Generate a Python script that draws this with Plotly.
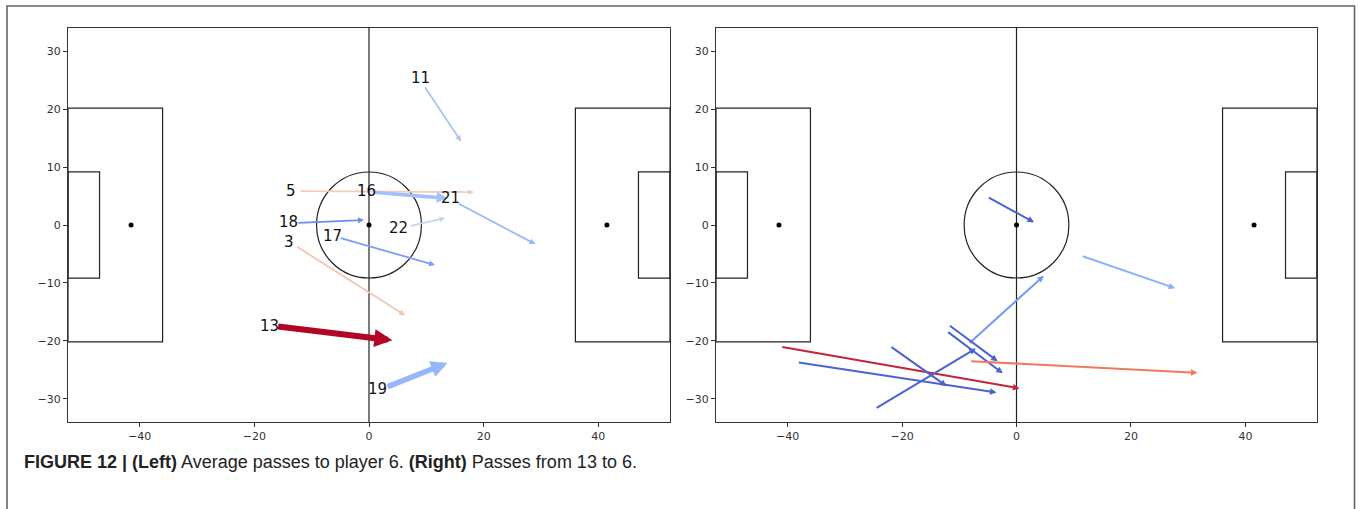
import plotly.graph_objects as go

# ---------------- data ----------------
left_labels = ['11', '5', '16', '21', '18', '22', '17', '3', '13', '19']
label_x = [8.9, -13.6, -0.5, 14.3, -14.0, 5.2, -6.4, -14.0, -17.3, 1.4]
label_y = [25.4, 5.8, 5.8, 4.7, 0.5, -0.5, -1.9, -2.9, -17.4, -28.3]
left_x0 = [9.6, -12.2, 0.5, 15.4, -12.6, 7.0, -5.2, -12.8, -16.1, 3.0]
left_y0 = [24.05, 5.84, 5.67, 3.8, 0.34, -0.2, -2.2, -3.6, -17.5, -28.0]
left_x1 = [16.07, 18.3, 13.7, 29.0, -0.9, 13.3, 11.5, 6.3, 4.07, 13.7]
left_y1 = [14.4, 5.67, 4.6, -3.3, 0.86, 1.2, -6.9, -15.6, -19.9, -23.8]
left_width = [1.8, 1.8, 3.6, 1.8, 1.8, 1.8, 1.8, 1.8, 6.0, 5.5]
left_colors = ['#a9c5f7', '#f3cbb8', '#a3c0fa', '#98b8fa', '#6a8cf0',
               '#c6d5ee', '#7c9ef6', '#f2c6b2', '#b40426', '#97b7fb']

right_x0 = [-5.1, 11.3, -8.45, -41.2, -38.3, -22.1, -24.7, -11.9, -12.2, -8.2]
right_y0 = [4.86, -5.3, -20.6, -21.0, -23.7, -20.9, -31.7, -17.2, -18.3, -23.5]
right_x1 = [3.07, 27.7, 4.77, 0.52, -3.5, -12.2, -7.1, -3.3, -2.4, 31.6]
right_y1 = [0.46, -10.9, -8.76, -28.2, -28.9, -27.8, -21.3, -23.5, -25.6, -25.5]
right_colors = ['#4a63d3', '#8db0fe', '#7398f6', '#c4243a', '#4a63d3',
                '#4a63d3', '#4a63d3', '#4a63d3', '#4a63d3', '#f07a5e']

x_ticks = [-40, -20, 0, 20, 40]
y_ticks = [-30, -20, -10, 0, 10, 20, 30]

caption = ("<b>FIGURE 12 | (Left)</b> Average passes to player 6. "
           "<b>(Right)</b> Passes from 13 to 6.")

# pitch geometry (metres)
HALF_L, HALF_W = 52.5, 34.0
PEN_D, PEN_HW = 16.5, 20.16
GOAL_D, GOAL_HW = 5.5, 9.16
SPOT = 41.5
CIRCLE_R = 9.15

W, H = 1358, 509
dom_left = [68 / W, 670 / W]
dom_right = [716 / W, 1317 / W]
dom_y = [1 - 422 / H, 1 - 28 / H]

fig = go.Figure()

line_style = dict(color='#222222', width=1.2)
shapes = []
for xr, yr in [('x', 'y'), ('x2', 'y2')]:
    def rect(x0, y0, x1, y1):
        shapes.append(dict(type='rect', xref=xr, yref=yr, x0=x0, y0=y0,
                           x1=x1, y1=y1, line=line_style, layer='below'))
    shapes.append(dict(type='line', xref=xr, yref=yr, x0=0, x1=0,
                       y0=-HALF_W, y1=HALF_W, line=line_style, layer='below'))
    rect(-HALF_L, -PEN_HW, -HALF_L + PEN_D, PEN_HW)
    rect(HALF_L - PEN_D, -PEN_HW, HALF_L, PEN_HW)
    rect(-HALF_L, -GOAL_HW, -HALF_L + GOAL_D, GOAL_HW)
    rect(HALF_L - GOAL_D, -GOAL_HW, HALF_L, GOAL_HW)
    shapes.append(dict(type='circle', xref=xr, yref=yr, x0=-CIRCLE_R,
                       x1=CIRCLE_R, y0=-CIRCLE_R, y1=CIRCLE_R,
                       line=line_style, layer='below'))

# outer figure border
shapes.append(dict(type='rect', xref='paper', yref='paper', x0=7 / W,
                   x1=1354.5 / W, y0=-0.2, y1=1 - 6 / H,
                   line=dict(color='#666666', width=1.6)))

for xa, ya in [('x', 'y'), ('x2', 'y2')]:
    fig.add_trace(go.Scatter(x=[-SPOT, 0, SPOT], y=[0, 0, 0], mode='markers',
                             marker=dict(color='black', size=5),
                             xaxis=xa, yaxis=ya, showlegend=False,
                             hoverinfo='skip'))

annotations = []
for x0, y0, x1, y1, w, c in zip(left_x0, left_y0, left_x1, left_y1,
                                left_width, left_colors):
    annotations.append(dict(xref='x', yref='y', axref='x', ayref='y',
                            x=x1, y=y1, ax=x0, ay=y0, text='',
                            showarrow=True, arrowhead=2,
                            arrowsize=0.65 if w < 3 else 0.6,
                            arrowwidth=w, arrowcolor=c, standoff=0,
                            startstandoff=0))
for lab, lx, ly in zip(left_labels, label_x, label_y):
    annotations.append(dict(xref='x', yref='y', x=lx, y=ly, text=lab,
                            showarrow=False, xanchor='center',
                            yanchor='middle',
                            font=dict(family='DejaVu Sans', size=15,
                                      color='#111111')))
for x0, y0, x1, y1, c in zip(right_x0, right_y0, right_x1, right_y1,
                             right_colors):
    annotations.append(dict(xref='x2', yref='y2', axref='x2', ayref='y2',
                            x=x1, y=y1, ax=x0, ay=y0, text='',
                            showarrow=True, arrowhead=2, arrowsize=0.65,
                            arrowwidth=2, arrowcolor=c, standoff=0,
                            startstandoff=0))

annotations.append(dict(xref='paper', yref='paper', x=22 / W, y=1 - 462 / H,
                        xanchor='left', yanchor='middle', text=caption,
                        showarrow=False,
                        font=dict(family='Liberation Sans Narrow, Liberation Sans, Arial',
                                  size=18, color='#222222')))

axis_common = dict(showgrid=False, zeroline=False, showline=True, mirror=True,
                   linecolor='#333333', linewidth=1, ticks='outside',
                   ticklen=4, tickcolor='#333333',
                   tickfont=dict(family='DejaVu Sans', size=11, color='#333333'))

fig.update_layout(
    width=W, height=H, margin=dict(l=0, r=0, t=0, b=0),
    paper_bgcolor='white', plot_bgcolor='white', showlegend=False,
    xaxis=dict(domain=dom_left, range=[-HALF_L, HALF_L], tickvals=x_ticks,
               anchor='y', **axis_common),
    yaxis=dict(domain=dom_y, range=[-HALF_W, HALF_W], tickvals=y_ticks,
               anchor='x', **axis_common),
    xaxis2=dict(domain=dom_right, range=[-HALF_L, HALF_L], tickvals=x_ticks,
                anchor='y2', **axis_common),
    yaxis2=dict(domain=dom_y, range=[-HALF_W, HALF_W], tickvals=y_ticks,
                anchor='x2', **axis_common),
    shapes=shapes, annotations=annotations,
)

fig.write_html('out.html', config={'displayModeBar': False},
               post_script="document.body.style.margin='0';"
                           "document.body.style.overflow='hidden';")
